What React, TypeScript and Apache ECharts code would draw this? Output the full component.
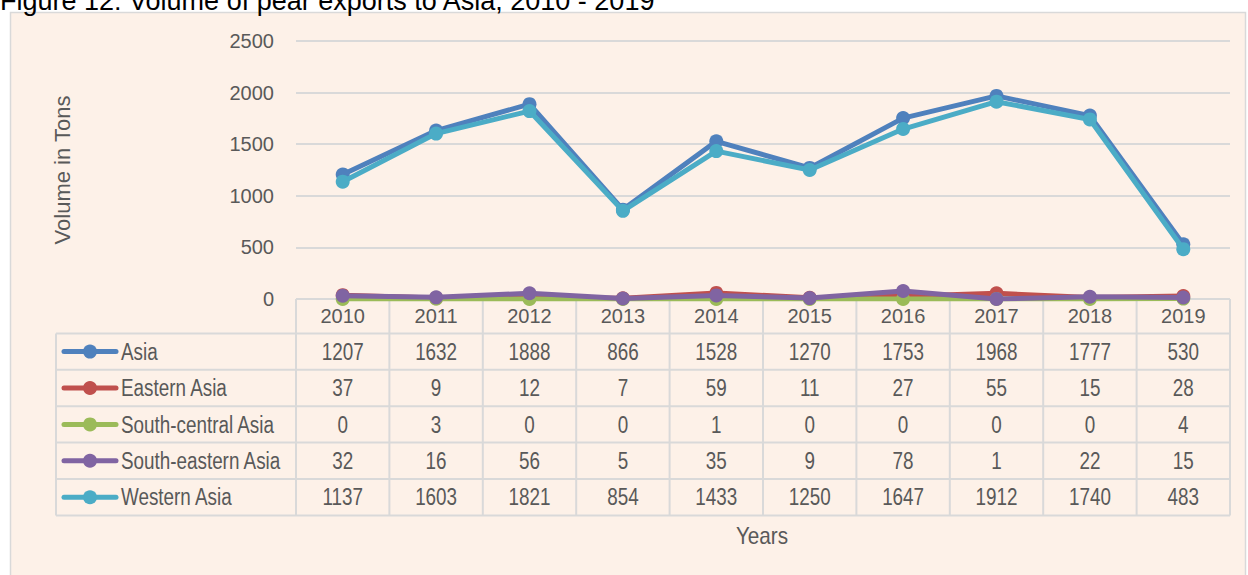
import React, { useEffect, useRef } from "react";
import * as echarts from "echarts";

const years = ["2010", "2011", "2012", "2013", "2014", "2015", "2016", "2017", "2018", "2019"];
const seriesNames = ["Asia", "Eastern Asia", "South-central Asia", "South-eastern Asia", "Western Asia"];
const asia = [1207, 1632, 1888, 866, 1528, 1270, 1753, 1968, 1777, 530];
const easternAsia = [37, 9, 12, 7, 59, 11, 27, 55, 15, 28];
const southCentralAsia = [0, 3, 0, 0, 1, 0, 0, 0, 0, 4];
const southEasternAsia = [32, 16, 56, 5, 35, 9, 78, 1, 22, 15];
const westernAsia = [1137, 1603, 1821, 854, 1433, 1250, 1647, 1912, 1740, 483];
const seriesValues = [asia, easternAsia, southCentralAsia, southEasternAsia, westernAsia];
const colors = ["#4F81BD", "#C0504D", "#9BBB59", "#8064A2", "#4BACC6"];

const W = 1248;
const H = 575;
const GL = 296;
const GR = 1230;
const GT = 41;
const GB = 299;
const TL = 56;
const ROW = 36.4;
const FONT = "'Liberation Sans', Arial, sans-serif";
const TXT = "#595959";
const BORDER = "#D9D9D9";
const SX = 0.82;

export default function App() {
  const ref = useRef<HTMLDivElement>(null);
  useEffect(() => {
    document.body.style.margin = "0";
    if (!ref.current) return;
    const chart = echarts.init(ref.current, null, { renderer: "svg" });
    const colW = (GR - GL) / years.length;
    const g: any[] = [];
    g.push({ type: "rect", z: -10, shape: { x: 10.5, y: 12.5, width: 1235, height: 600 }, style: { fill: "#FDF1E8", stroke: BORDER, lineWidth: 1.5 } });
    g.push({ type: "text", z: 5, x: 0, y: 14, style: { text: "Figure 12: Volume of pear exports to Asia, 2010 - 2019", font: "27px " + FONT, fill: "#000", verticalAlign: "bottom" } });
    const tableTop = GB;
    const tableBottom = GB + ROW * 6 - 2;
    for (let i = 0; i <= years.length; i++) {
      const x = GL + i * colW;
      g.push({ type: "line", z: 0, shape: { x1: x, y1: tableTop, x2: x, y2: tableBottom }, style: { stroke: BORDER, lineWidth: 2 } });
    }
    g.push({ type: "line", z: 0, shape: { x1: TL, y1: tableTop + ROW - 2, x2: TL, y2: tableBottom }, style: { stroke: BORDER, lineWidth: 2 } });
    for (let r = 1; r <= 6; r++) {
      const y = tableTop + r * ROW - 2;
      g.push({ type: "line", z: 0, shape: { x1: TL, y1: y, x2: GR, y2: y }, style: { stroke: BORDER, lineWidth: 2 } });
    }
    seriesNames.forEach((name, r) => {
      const cy = tableTop + (r + 1) * ROW + ROW / 2 - 2;
      g.push({ type: "line", z: 3, shape: { x1: 64, y1: cy, x2: 116, y2: cy }, style: { stroke: colors[r], lineWidth: 5, lineCap: "round" } });
      g.push({ type: "circle", z: 3, shape: { cx: 90, cy, r: 7 }, style: { fill: colors[r] } });
      g.push({ type: "text", z: 3, x: 121, y: cy, scaleX: SX, style: { text: name, font: "23px " + FONT, fill: TXT, verticalAlign: "middle" } });
      seriesValues[r].forEach((v, i) => {
        g.push({ type: "text", z: 3, x: GL + (i + 0.5) * colW, y: cy, scaleX: SX, style: { text: String(v), font: "23px " + FONT, fill: TXT, align: "center", verticalAlign: "middle" } });
      });
    });
    g.push({ type: "text", z: 3, x: 762, y: 536, scaleX: 0.9, style: { text: "Years", font: "23px " + FONT, fill: TXT, align: "center", verticalAlign: "middle" } });
    g.push({ type: "text", z: 3, x: 62, y: 170, rotation: Math.PI / 2, style: { text: "Volume in Tons", font: "22px " + FONT, fill: TXT, align: "center", verticalAlign: "middle" } });

    chart.setOption({
      animation: false,
      grid: { left: GL, right: W - GR, top: GT, bottom: H - GB },
      xAxis: {
        type: "category",
        data: years,
        boundaryGap: true,
        axisLine: { show: false },
        axisTick: { show: false },
        axisLabel: { color: TXT, fontFamily: FONT, fontSize: 20, verticalAlign: "middle", margin: 17 },
      },
      yAxis: {
        type: "value",
        min: 0,
        max: 2500,
        interval: 500,
        axisLine: { show: false },
        axisTick: { show: false },
        axisLabel: { color: TXT, fontFamily: FONT, fontSize: 20, margin: 22, formatter: (v: number) => String(v) },
        splitLine: { lineStyle: { color: BORDER, width: 2 } },
      },
      graphic: g,
      series: seriesNames.map((name, i) => ({
        name,
        type: "line",
        data: seriesValues[i],
        symbol: "circle",
        symbolSize: 14,
        z: 10 + i,
        itemStyle: { color: colors[i] },
        lineStyle: { color: colors[i], width: 5 },
      })),
    });
    return () => chart.dispose();
  }, []);
  return <div ref={ref} style={{ width: W, height: H }} />;
}
